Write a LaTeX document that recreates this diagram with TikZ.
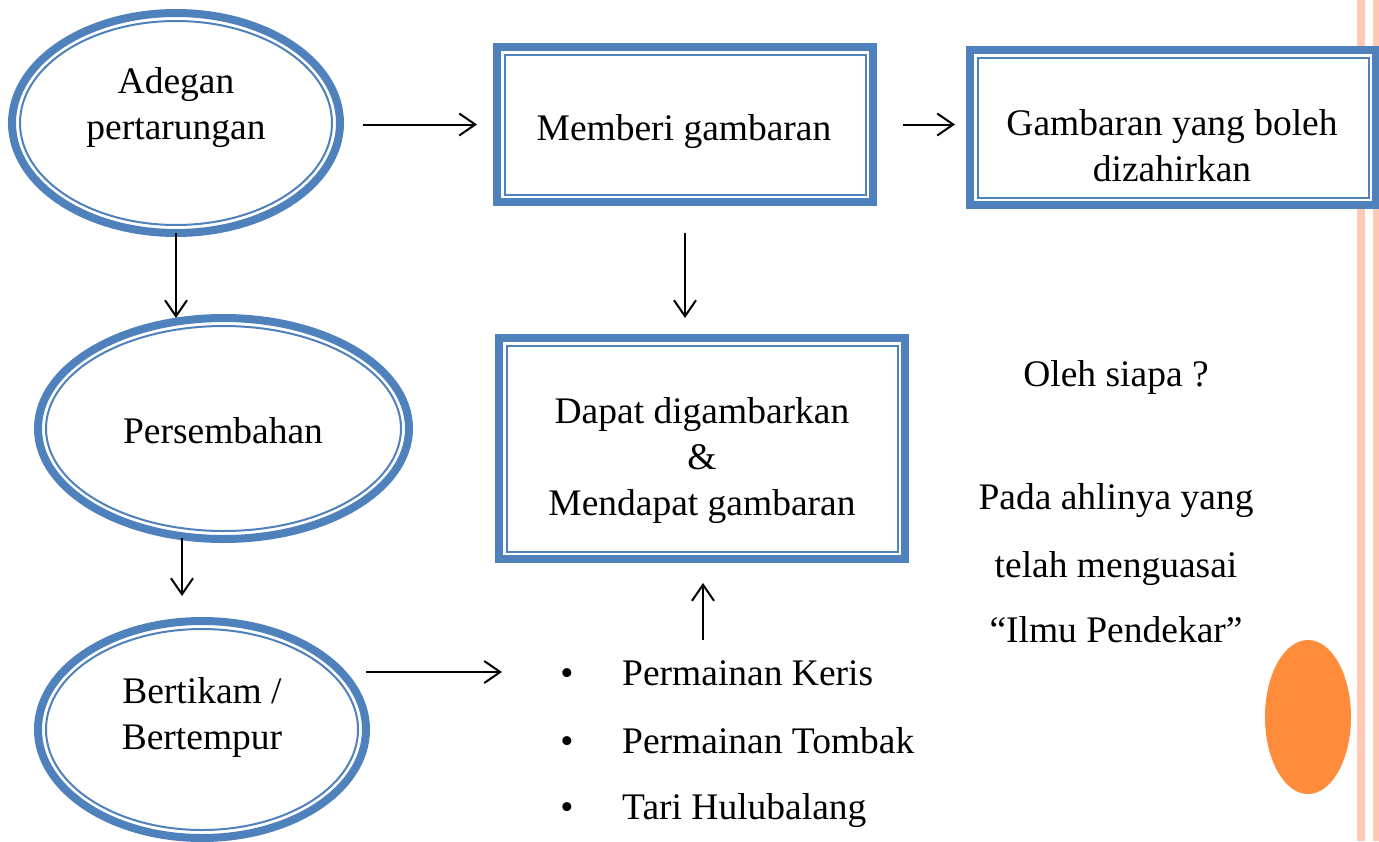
\documentclass[tikz,border=0pt]{standalone}
\usepackage{fontspec}
\setmainfont{Liberation Serif}
\usetikzlibrary{arrows.meta,shapes.geometric,calc}
\definecolor{bordblue}{HTML}{4F81BD}
\definecolor{stripecol}{HTML}{FFC9B5}
\definecolor{dotorange}{HTML}{FF8C3A}
\begin{document}
\begin{tikzpicture}[x=1pt,y=-1pt,
  ellbox/.style={ellipse, draw=bordblue, line width=8pt, fill=white, inner sep=0pt, outer sep=0pt},
  recbox/.style={rectangle, draw=bordblue, line width=8pt, fill=white, inner sep=0pt, outer sep=0pt},
  innerline/.style={draw=bordblue, line width=2pt},
  txt/.style={font=\fontsize{37.5}{46}\selectfont, align=center, inner sep=0pt},
  arr/.style={line width=2pt, -{Straight Barb[length=16pt,width=22pt]}}]

\useasboundingbox (0,0) rectangle (1379,841);
\fill[stripecol] (1357,0) rectangle (1365,841);
\fill[stripecol] (1373,0) rectangle (1379,841);

% ellipses
\node[ellbox, minimum width=328pt, minimum height=220pt] (e1) at (176,123) {};
\draw[innerline] (e1.center) ellipse [x radius=156pt, y radius=102pt];
\node[ellbox, minimum width=371pt, minimum height=221pt] (e2) at (223.5,428.5) {};
\draw[innerline] (e2.center) ellipse [x radius=177.5pt, y radius=102.5pt];
\node[ellbox, minimum width=328pt, minimum height=217pt] (e3) at (202,729.5) {};
\draw[innerline] (e3.center) ellipse [x radius=156pt, y radius=100.5pt];

% boxes
\node[recbox, minimum width=376pt, minimum height=155pt] (b1) at (685,124.5) {};
\draw[innerline] ([shift={(7.5,7.5)}]b1.north west) rectangle ([shift={(-7.5,-7.5)}]b1.south east);
\node[recbox, minimum width=406pt, minimum height=155pt] (b2) at (1173,127.5) {};
\draw[innerline] ([shift={(7.5,7.5)}]b2.north west) rectangle ([shift={(-7.5,-7.5)}]b2.south east);
\node[recbox, minimum width=406pt, minimum height=221pt] (b3) at (702,448.5) {};
\draw[innerline] ([shift={(7.5,7.5)}]b3.north west) rectangle ([shift={(-7.5,-7.5)}]b3.south east);

% texts
\node[txt] (t1) at (176,108) {Adegan\\pertarungan};
\node[txt, anchor=base] (t2) at (684,140) {Memberi gambaran};
\node[txt] (t3) at (1172,146) {Gambaran yang boleh\\dizahirkan};
\node[txt, anchor=base] (t4) at (223,443) {Persembahan};
\node[txt] (t5) at (702,461) {Dapat digambarkan\\\&\\Mendapat gambaran};
\node[txt] (t6) at (202,717) {Bertikam /\\Bertempur};

\node[txt, anchor=base] (r1) at (1116,386) {Oleh siapa ?};
\node[txt, anchor=base] (r2) at (1116,509) {Pada ahlinya yang};
\node[txt, anchor=base] (r3) at (1116,577) {telah menguasai};
\node[txt, anchor=base] (r4) at (1116,642) {“Ilmu Pendekar”};

\node[txt, anchor=base] (d1) at (567,685) {•};
\node[txt, anchor=base west] (l1) at (622,685) {Permainan Keris};
\node[txt, anchor=base] (d2) at (567,753) {•};
\node[txt, anchor=base west] (l2) at (622,753) {Permainan Tombak};
\node[txt, anchor=base] (d3) at (567,819) {•};
\node[txt, anchor=base west] (l3) at (622,819) {Tari Hulubalang};

% orange dot
\node[ellipse, fill=dotorange, minimum width=86pt, minimum height=154pt, inner sep=0pt] (dot) at (1308,717) {};

% arrows
\coordinate (a4s) at (182,538);
\coordinate (a4e) at (182,596);
\coordinate (a5s) at (366,672);
\coordinate (a5e) at (502,672);
\coordinate (a7s) at (703,640);

\draw[arr, shorten <=23pt, shorten >=20pt] (e1.east |- b1.west) -- (b1.west);
\draw[arr, shorten <=30pt, shorten >=15pt] (b1.east) -- (b1.east -| b2.west);
\draw[arr] (e1.south) -- (e1.south |- e2.north);
\draw[arr] (a4s) -- (a4e);
\draw[arr] (a5s) -- (a5e);
\draw[arr, shorten <=31pt, shorten >=20pt] (b1.south) -- (b1.south |- b3.north);
\draw[arr, shorten >=24pt] (a7s) -- (a7s |- b3.south);
\end{tikzpicture}
\end{document}
